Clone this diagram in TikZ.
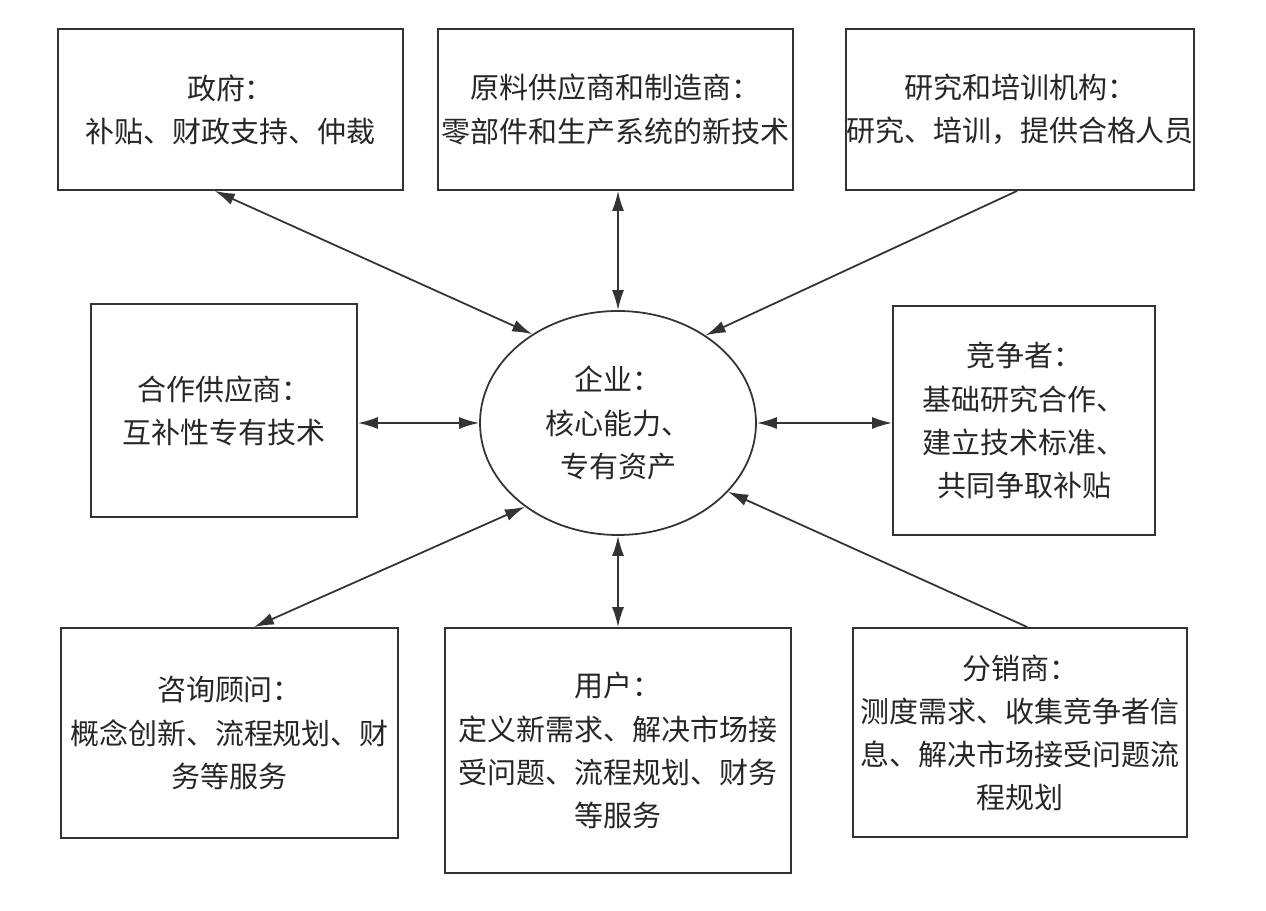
\documentclass[tikz,border=0pt]{standalone}
\usepackage{fontspec}
\newfontfamily\cjk{Noto Sans CJK SC}
\usetikzlibrary{shapes,arrows.meta}

\begin{document}
\begin{tikzpicture}[
    box/.style={rectangle, draw=black!80, line width=1pt, inner sep=0pt, align=center, text=black!85, font=\cjk\fontsize{16.5}{24.5}\selectfont},
    both/.style={draw=black!80, line width=1pt, {Latex[length=0.4cm,width=0.24cm]}-{Latex[length=0.4cm,width=0.24cm]}},
    tofirm/.style={draw=black!80, line width=1pt, -{Latex[length=0.4cm,width=0.24cm]}}
  ]
                    \useasboundingbox (0,0) rectangle (25.32,18.22);

                    \node[box, minimum width=6.9cm, minimum height=3.22cm] (gov) at (4.61,16.03) {政府：\\补贴、财政支持、仲裁};
                    \node[box, minimum width=7.1cm, minimum height=3.22cm] (raw) at (12.31,16.03) {原料供应商和制造商：\\零部件和生产系统的新技术};
                    \node[box, minimum width=6.88cm, minimum height=3.22cm] (res) at (20.4,16.03) {研究和培训机构：\\研究、培训，提供合格人员};
                    \node[box, minimum width=5.32cm, minimum height=4.26cm] (coop) at (4.48,10.01) {合作供应商：\\互补性专有技术};
                    \node[box, ellipse, minimum width=5.52cm, minimum height=4.48cm] (firm) at (12.36,9.76) {企业：\\核心能力、\\专有资产};
                    \node[box, minimum width=5.24cm, minimum height=4.58cm] (comp) at (20.48,9.81) {竞争者：\\基础研究合作、\\建立技术标准、\\共同争取补贴};
                    \node[box, minimum width=6.74cm, minimum height=4.2cm] (cons) at (4.59,3.56) {咨询顾问：\\概念创新、流程规划、财\\务等服务};
                    \node[box, minimum width=6.92cm, minimum height=4.9cm] (user) at (12.36,3.21) {用户：\\定义新需求、解决市场接\\受问题、流程规划、财务\\等服务};
                    \node[box, minimum width=6.68cm, minimum height=4.18cm] (dist) at (20.4,3.57) {分销商：\\测度需求、收集竞争者信\\息、解决市场接受问题流\\程规划};

                    \draw[both] (gov.259) -- (firm.134);
                    \draw[both] (firm.north |- raw.south) -- (firm.north);
                    \draw[tofirm] (res.268) -- (firm.45.6);
                    \draw[both] (coop.east |- firm.west) -- (firm.west);
                    \draw[both] (firm.east) -- (firm.east -| comp.west);
                    \draw[both] (cons.77) -- (firm.222.7);
                    \draw[both] (firm.south) -- (firm.south |- user.north);
                    \draw[tofirm] (dist.86) -- (firm.328.7);
                \end{tikzpicture}
\end{document}
